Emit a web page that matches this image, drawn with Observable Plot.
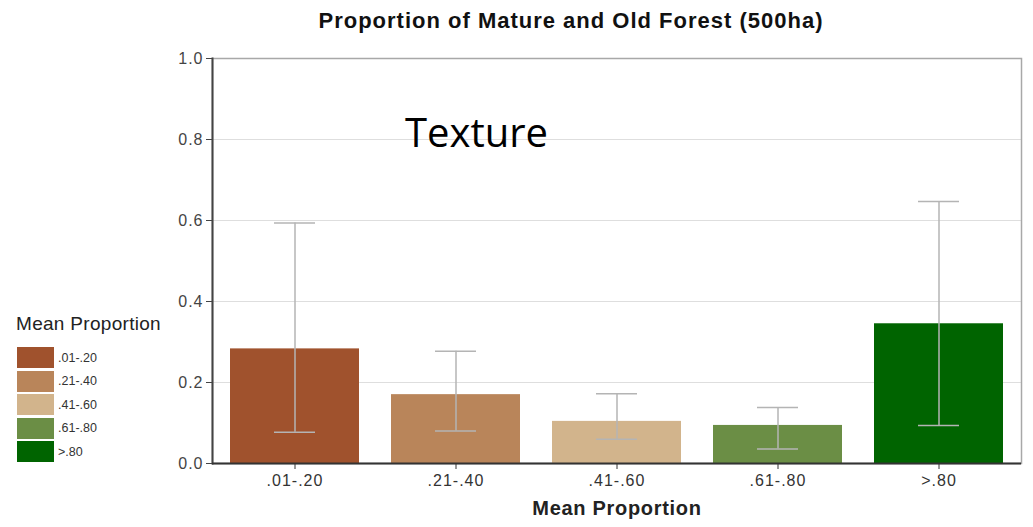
<!DOCTYPE html>
<html>
<head>
<meta charset="utf-8">
<script src="https://cdn.jsdelivr.net/npm/d3@7"></script>
<script src="https://cdn.jsdelivr.net/npm/@observablehq/plot@0.6"></script>
<style>
  html, body { margin: 0; padding: 0; background: #fff; }
  #wrap { position: relative; width: 1033px; height: 527px; font-family: "Liberation Sans", Arial, sans-serif; }
  #chart { position: absolute; left: 0; top: 0; }
  #title { position: absolute; left: 0; width: 1142px; top: 8px; text-align: center; font-weight: bold; font-size: 22px; letter-spacing: 1px; color: #111; }
  #note { position: absolute; left: 405px; top: 104px; font-family: "Open Sans", sans-serif; font-size: 40px; color: #000; }
  #legend { position: absolute; left: 16px; top: 313px; color: #333; }
  #legend .lt { font-size: 19px; letter-spacing: 0.3px; margin-bottom: 11px; color: #222; }
  #legend .row { display: flex; align-items: center; height: 23.5px; }
  #legend .sw { width: 37px; height: 21px; margin-left: 1px; margin-right: 4px; }
  #legend .lab { font-size: 12.5px; }
  #chart g[aria-label="x-axis tick label"] text,
  #chart g[aria-label="y-axis tick label"] text { letter-spacing: 1px; }
  #chart g[aria-label="text"] text { letter-spacing: 0.7px; }
</style>
</head>
<body>
<div id="wrap">
  <div id="chart"></div>
  <div id="title">Proportion of Mature and Old Forest (500ha)</div>
  <div id="note">Texture</div>
  <div id="legend"></div>
</div>
<script>
// Mean proportion classes and their summary statistics
const categories = [".01-.20", ".21-.40", ".41-.60", ".61-.80", ">.80"];
const means = [0.283, 0.170, 0.104, 0.094, 0.345];
const lower = [0.077, 0.080, 0.060, 0.036, 0.094];
const upper = [0.594, 0.277, 0.172, 0.138, 0.647];
const colors = ["#A0522D", "#B9855A", "#D2B48C", "#6B8E45", "#006400"];
const yTicks = [0, 0.2, 0.4, 0.6, 0.8, 1.0];
const gridTicks = [0.2, 0.4, 0.6, 0.8];

const data = categories.map((c, i) => ({cls: c, mean: means[i], lo: lower[i], hi: upper[i]}));

const whisker = {stroke: "#b4b4b4", strokeWidth: 1.5};

const chart = Plot.plot({
  width: 1033,
  height: 527,
  marginTop: 58,
  marginRight: 12,
  marginBottom: 64,
  marginLeft: 212,
  style: {fontFamily: "Liberation Sans, Arial, sans-serif", background: "#fff"},
  x: {domain: categories, paddingInner: 0.2, paddingOuter: 0.1, label: null},
  y: {domain: [0, 1], label: null},
  color: {domain: categories, range: colors},
  marks: [
    Plot.gridY(gridTicks, {stroke: "#dedede", strokeOpacity: 1}),
    Plot.frame({stroke: "#a8a8a8", strokeWidth: 1.5}),
    Plot.barY(data, {x: "cls", y: "mean", fill: "cls"}),
    Plot.ruleX(data, {x: "cls", y1: "lo", y2: "hi", ...whisker}),
    Plot.tickY(data, {x: "cls", y: "hi", insetLeft: 44, insetRight: 44, ...whisker}),
    Plot.tickY(data, {x: "cls", y: "lo", insetLeft: 44, insetRight: 44, ...whisker}),
    Plot.frame({anchor: "left", stroke: "#444", strokeWidth: 2}),
    Plot.ruleY([0], {stroke: "#333", strokeWidth: 2}),
    Plot.axisY(yTicks, {tickFormat: d3.format(".1f"), tickSize: 6, tickPadding: 3, fontSize: 16, color: "#444", stroke: "#444", label: null}),
    Plot.axisX({tickSize: 6, tickPadding: 5, fontSize: 16, color: "#333", stroke: "#333", label: null}),
    Plot.text(["Mean Proportion"], {frameAnchor: "bottom", dy: 51, fontSize: 20, fontWeight: "bold", fill: "#222"})
  ]
});
document.getElementById("chart").appendChild(chart);

// Legend built from the same classes and colours
const legend = document.getElementById("legend");
const lt = document.createElement("div");
lt.className = "lt";
lt.textContent = "Mean Proportion";
legend.appendChild(lt);
categories.forEach((c, i) => {
  const row = document.createElement("div");
  row.className = "row";
  const sw = document.createElement("div");
  sw.className = "sw";
  sw.style.background = colors[i];
  const lab = document.createElement("span");
  lab.className = "lab";
  lab.textContent = c;
  row.appendChild(sw);
  row.appendChild(lab);
  legend.appendChild(row);
});
</script>
</body>
</html>
